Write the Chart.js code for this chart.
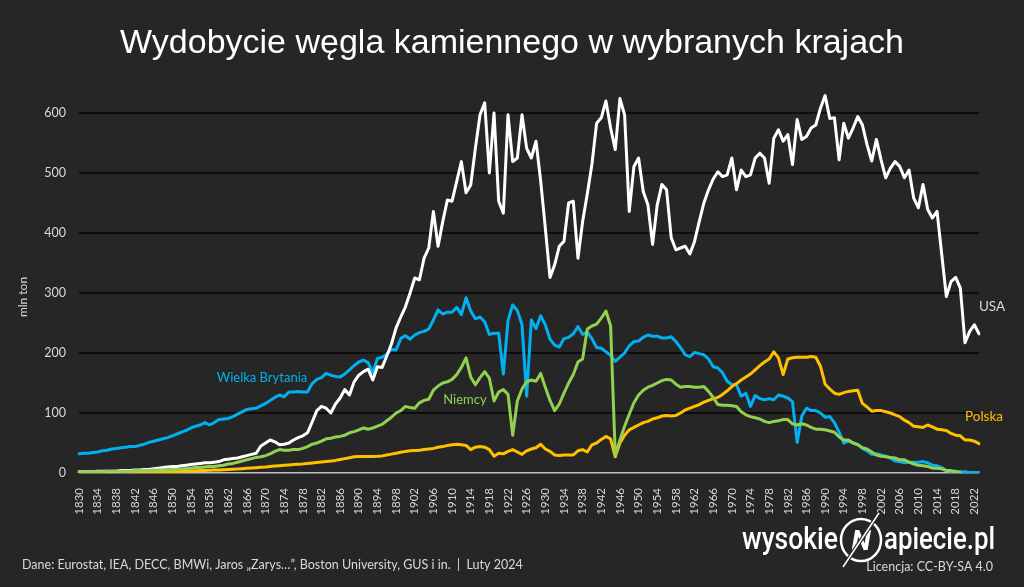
<!DOCTYPE html>
<html lang="pl">
<head>
<meta charset="utf-8">
<title>Wydobycie węgla kamiennego w wybranych krajach</title>
<script src="https://cdn.jsdelivr.net/npm/chart.js@4.4.1/dist/chart.umd.min.js"></script>
<style>
  html, body { margin: 0; padding: 0; background: #262626; }
  #wrap { width: 1024px; height: 587px; }
</style>
</head>
<body>
<div id="wrap"><canvas id="coal-chart" width="1024" height="587"></canvas></div>
<script>
// Years on the x axis (1830 - 2023)
const firstYear = 1830;
const lastYear = 2023;
const years = [];
for (let y = firstYear; y <= lastYear; y++) years.push(String(y));

// Hard coal output, mln t (one row per decade)
const usa = [
    2, 2, 2, 2, 3, 3, 3, 3, 3, 4,
    4, 4, 5, 5, 6, 6, 7, 8, 9, 10,
    11, 11, 12, 13, 14, 15, 16, 17, 17, 18,
    19, 22, 23, 24, 25, 27, 29, 31, 33, 45,
    50, 55, 52, 47, 48, 50, 55, 59, 62, 67,
    85, 104, 111, 108, 100, 115, 125, 139, 130, 152,
    163, 169, 173, 155, 177, 176, 195, 215, 242, 260,
    277, 300, 325, 322, 358, 375, 436, 378, 419, 455,
    453, 486, 519, 467, 480, 541, 597, 617, 500, 600,
    453, 433, 597, 519, 525, 597, 541, 525, 553, 487,
    408, 326, 347, 378, 386, 450, 453, 358, 419, 465,
    515, 583, 592, 620, 575, 539, 624, 597, 436, 511,
    525, 469, 447, 381, 447, 481, 472, 392, 372, 375,
    378, 365, 386, 419, 450, 472, 490, 502, 494, 497,
    525, 472, 505, 494, 497, 525, 533, 525, 483, 558,
    572, 553, 564, 514, 589, 556, 561, 575, 580, 608,
    629, 591, 592, 522, 583, 558, 575, 594, 580, 547,
    520, 556, 522, 492, 508, 519, 511, 492, 505, 458,
    442, 481, 439, 425, 436, 365, 294, 319, 326, 308,
    217, 236, 247, 232
];

const wielkaBrytania = [
    32, 33, 33, 34, 35, 37, 38, 40, 41, 42,
    43, 44, 44, 46, 48, 51, 53, 55, 57, 59,
    62, 65, 68, 71, 75, 78, 80, 84, 80, 84,
    89, 90, 91, 94, 98, 102, 106, 107, 108, 112,
    116, 121, 126, 130, 127, 135, 135, 136, 135, 135,
    149, 156, 159, 166, 163, 161, 160, 165, 172, 179,
    185, 188, 184, 167, 191, 193, 198, 206, 205, 224,
    229, 223, 230, 234, 236, 240, 255, 272, 265, 268,
    268, 276, 264, 292, 270, 257, 260, 252, 231, 233,
    233, 165, 254, 280, 271, 247, 128, 255, 241, 262,
    247, 223, 213, 210, 224, 226, 232, 244, 231, 235,
    224, 209, 208, 202, 196, 186, 193, 200, 212, 219,
    220, 226, 230, 228, 228, 225, 225, 227, 219, 209,
    197, 194, 201, 199, 197, 190, 177, 175, 167, 153,
    147, 147, 128, 133, 111, 129, 124, 122, 124, 122,
    130, 128, 125, 119, 51, 95, 108, 104, 104, 100,
    93, 94, 84, 68, 50, 53, 50, 48, 41, 37,
    31, 32, 30, 28, 25, 20, 19, 17, 18, 18,
    18, 19, 17, 13, 12, 9, 4, 3, 3, 2,
    2, 1, 1, 1
];

const niemcy = [
    2, 2, 2, 2, 2, 2, 3, 3, 3, 3,
    3, 3, 4, 4, 4, 4, 5, 5, 5, 5,
    6, 6, 7, 7, 8, 9, 9, 10, 11, 11,
    12, 13, 15, 16, 18, 20, 22, 24, 26, 27,
    29, 32, 36, 39, 38, 38, 39, 39, 41, 44,
    48, 50, 53, 57, 58, 60, 61, 63, 67, 69,
    72, 75, 73, 75, 78, 81, 87, 93, 100, 104,
    111, 109, 108, 117, 121, 123, 138, 145, 150, 152,
    156, 164, 176, 192, 160, 147, 159, 169, 158, 120,
    135, 139, 131, 63, 120, 140, 152, 155, 153, 166,
    143, 121, 104, 115, 133, 150, 164, 185, 190, 240,
    245, 248, 258, 270, 245, 30, 55, 78, 98, 117,
    130, 138, 143, 146, 150, 154, 156, 155, 148, 143,
    144, 144, 143, 143, 144, 136, 126, 114, 113, 113,
    112, 111, 102, 97, 94, 92, 90, 86, 84, 86,
    87, 89, 89, 82, 80, 82, 80, 76, 73, 73,
    72, 70, 68, 60, 55, 55, 50, 47, 42, 40,
    35, 30, 28, 27, 26, 25, 22, 22, 18, 15,
    13, 12, 11, 8, 8, 7, 4, 4, 2, 1,
    null, null, null, null
];

const polska = [
    0.5, 0.5, 0.6, 0.6, 0.7, 0.8, 0.8, 0.9, 1, 1,
    1.1, 1.2, 1.3, 1.4, 1.5, 1.6, 1.8, 2, 2.1, 2.3,
    2.5, 2.7, 3, 3.2, 3.5, 3.8, 4, 4.3, 4.5, 4.8,
    5, 5.4, 5.8, 6.2, 6.7, 7.2, 7.8, 8.3, 8.9, 9.5,
    10, 10.7, 11.5, 12.2, 12.8, 13.4, 14, 14.6, 15.2, 16,
    16.8, 17.5, 18.3, 19.2, 20, 21, 22.5, 24, 25.5, 27,
    27.5, 27.5, 27.5, 27.5, 27.8, 28.5, 30, 31.5, 33, 34.5,
    36, 37, 37.5, 38, 39, 40, 41, 43, 44, 46,
    47, 48, 47, 46, 39, 43, 44, 43, 39, 28,
    33, 32, 36, 39, 35, 31, 37, 40, 42, 48,
    40, 36, 30, 29, 30, 30, 30, 37, 39, 35,
    47, 50, 56, 61, 57, 27, 50, 63, 72, 76,
    80, 84, 86, 90, 92, 95, 96, 95, 96, 100,
    105, 108, 111, 114, 118, 121, 124, 126, 131, 137,
    144, 149, 155, 160, 165, 172, 179, 185, 190, 202,
    192, 164, 190, 192, 193, 193, 193, 194, 193, 178,
    148, 140, 133, 131, 134, 136, 137, 138, 116, 110,
    103, 104, 104, 102, 100, 97, 94, 88, 84, 78,
    77, 76, 80, 77, 73, 72, 71, 66, 63, 62,
    55, 55, 53, 49
];

// y axis: 0 - 600 every 100
const yTicks = [0, 100, 200, 300, 400, 500, 600];

const bg = "#262626";
const textGrey = "#d9d9d9";
const uiFont = "Lato, 'Open Sans', sans-serif";

// Title, series names, footer and logo
const decorPlugin = {
    id: "decor",
    beforeDraw(chart) {
        const ctx = chart.ctx;
        ctx.save();
        ctx.fillStyle = bg;
        ctx.fillRect(0, 0, chart.width, chart.height);
        ctx.restore();
    },
    afterDraw(chart) {
        const ctx = chart.ctx;
        ctx.save();

        // title
        ctx.fillStyle = "#ffffff";
        ctx.font = "34px 'Liberation Sans', Arial, sans-serif";
        ctx.textAlign = "center";
        ctx.textBaseline = "alphabetic";
        ctx.fillText("Wydobycie węgla kamiennego w wybranych krajach", 512, 53);

        // y axis name
        ctx.save();
        ctx.translate(23, 297);
        ctx.rotate(-Math.PI / 2);
        ctx.font = "12px " + uiFont;
        ctx.fillStyle = textGrey;
        ctx.textBaseline = "middle";
        ctx.fillText("mln ton", 0, 0);
        ctx.restore();

        // series names
        ctx.font = "13px " + uiFont;
        ctx.textBaseline = "middle";
        ctx.fillStyle = "#00b0f0";
        ctx.fillText("Wielka Brytania", 262, 378);
        ctx.fillStyle = "#92d050";
        ctx.fillText("Niemcy", 465, 400);
        ctx.font = "13.5px " + uiFont;
        ctx.fillStyle = textGrey;
        ctx.fillText("USA", 992, 307);
        ctx.fillStyle = "#ffc000";
        ctx.fillText("Polska", 984, 417);

        // footer
        ctx.textAlign = "left";
        ctx.font = "12.5px " + uiFont;
        ctx.fillStyle = textGrey;
        ctx.fillText("Dane: Eurostat, IEA, DECC, BMWi, Jaros \u201EZarys\u2026\u201D, Boston University, GUS i in.  |  Luty 2024", 22, 565);

        ctx.textAlign = "right";
        ctx.font = "12.5px " + uiFont;
        ctx.fillText("Licencja: CC-BY-SA 4.0", 993, 567);

        // logo wysokienapiecie.pl
        ctx.fillStyle = "#ffffff";
        ctx.textAlign = "left";
        ctx.textBaseline = "alphabetic";
        drawSqueezed(ctx, "wysokie", "500 32px Roboto, sans-serif", 742, 549, 96);
        drawSqueezed(ctx, "apiecie.pl", "500 32px Roboto, sans-serif", 884, 549, 111);

        ctx.strokeStyle = "#ffffff";
        ctx.lineWidth = 2.5;
        ctx.beginPath();
        ctx.ellipse(861, 540, 20, 21, 0, 0, Math.PI * 2);
        ctx.stroke();
        ctx.font = "italic bold 28px Roboto, sans-serif";
        ctx.textAlign = "center";
        ctx.fillText("N", 861, 550);
        ctx.strokeStyle = bg;
        ctx.lineWidth = 4;
        ctx.beginPath();
        ctx.moveTo(879, 513);
        ctx.lineTo(843, 567);
        ctx.stroke();
        ctx.strokeStyle = "#ffffff";
        ctx.lineWidth = 1.5;
        ctx.beginPath();
        ctx.moveTo(879, 513);
        ctx.lineTo(843, 567);
        ctx.stroke();

        ctx.restore();
    }
};

function drawSqueezed(ctx, text, font, x, y, width) {
    ctx.save();
    ctx.font = font;
    const w = ctx.measureText(text).width;
    ctx.translate(x, y);
    ctx.scale(width / w, 1);
    ctx.fillText(text, 0, 0);
    ctx.restore();
}

function lineSet(label, data, color, order) {
    return {
        label: label,
        data: data,
        borderColor: color,
        backgroundColor: color,
        borderWidth: 3,
        pointRadius: 0,
        tension: 0,
        borderJoinStyle: "round",
        borderCapStyle: "round",
        spanGaps: false,
        order: order
    };
}

// lower order is drawn on top
const chartData = {
    labels: years,
    datasets: [
        lineSet("Niemcy", niemcy, "#92d050", 1),
        lineSet("USA", usa, "#ffffff", 2),
        lineSet("Polska", polska, "#ffc000", 3),
        lineSet("Wielka Brytania", wielkaBrytania, "#00b0f0", 4)
    ]
};

const chartConfig = {
    type: "line",
    data: chartData,
    options: {
        responsive: false,
        animation: false,
        layout: { padding: { left: 0, right: 45, top: 83, bottom: 0 } },
        plugins: {
            legend: { display: false },
            tooltip: { enabled: false },
            title: { display: false }
        },
        scales: {
            x: {
                grid: { display: false },
                border: { display: false },
                ticks: {
                    autoSkip: false,
                    minRotation: 90,
                    maxRotation: 90,
                    color: textGrey,
                    padding: 7,
                    font: { family: uiFont, size: 11.5 },
                    callback: function (val, idx) {
                        return idx % 4 === 0 ? this.getLabelForValue(val) : null;
                    }
                },
                afterFit: (scale) => { scale.height = 114; }
            },
            y: {
                min: 0,
                max: 650,
                afterBuildTicks: (scale) => {
                    scale.ticks = yTicks.map((v) => ({ value: v }));
                },
                grid: {
                    drawTicks: false,
                    color: (c) => (c.tick && c.tick.value === 0 ? "#bfbfbf" : "#0d0d0d"),
                    lineWidth: (c) => (c.tick && c.tick.value === 0 ? 1.5 : 2)
                },
                border: { display: false },
                ticks: {
                    color: textGrey,
                    padding: 13,
                    font: { family: uiFont, size: 12.5 }
                },
                afterFit: (scale) => { scale.width = 79; }
            }
        }
    },
    plugins: [decorPlugin]
};

const coalChart = new Chart(document.getElementById("coal-chart"), chartConfig);
</script>
</body>
</html>
